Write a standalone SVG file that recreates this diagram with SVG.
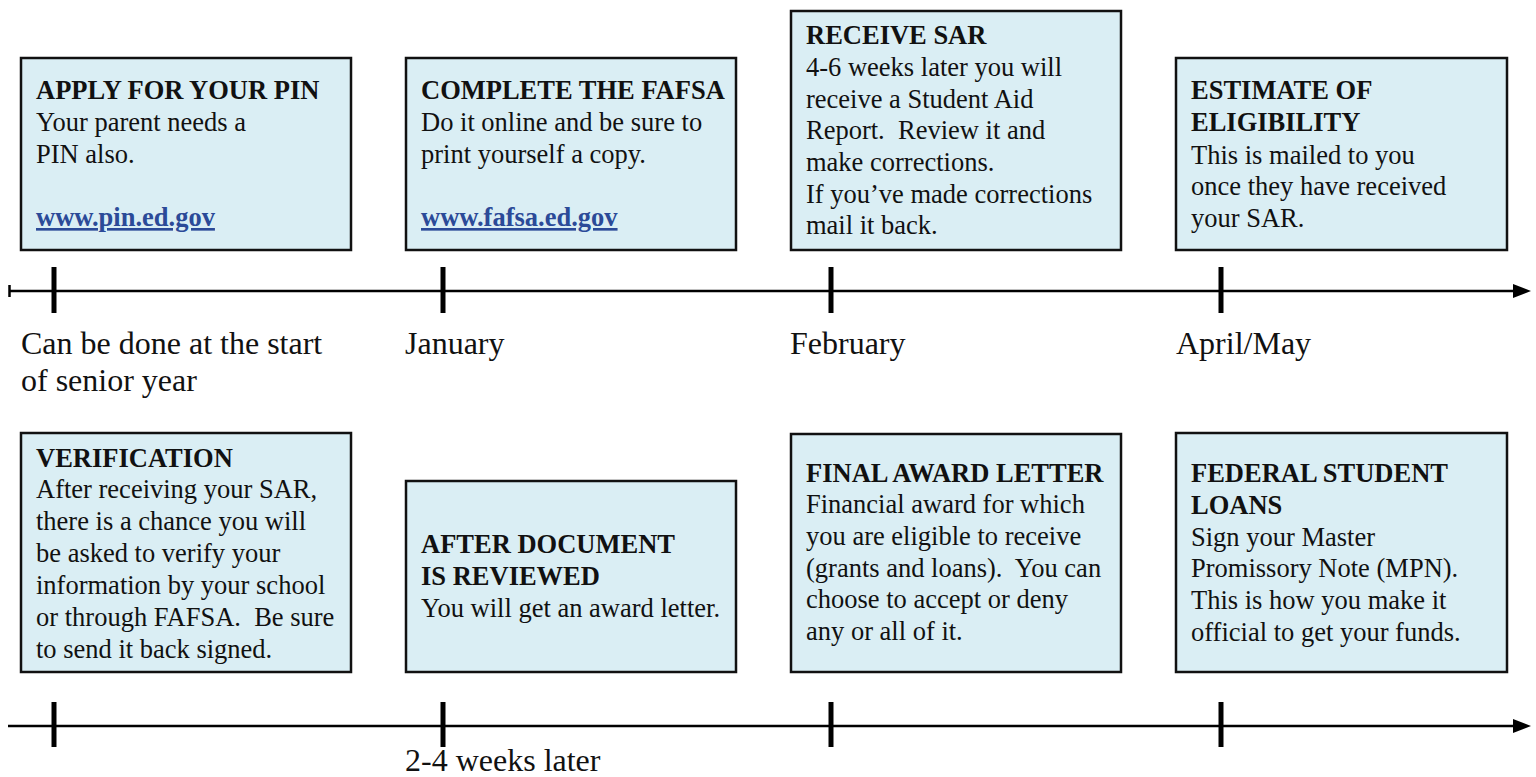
<svg xmlns="http://www.w3.org/2000/svg" width="1536" height="777" viewBox="0 0 1536 777">
<style>
.box{fill:#DAEEF4;stroke:#111;stroke-width:2.5}
.t{font-family:"Liberation Serif","Times New Roman",serif;font-size:26.5px;fill:#111;white-space:pre}
.b{font-weight:bold}
.u{font-weight:bold;fill:#2B4A98;text-decoration:underline}
.lab{font-family:"Liberation Serif","Times New Roman",serif;font-size:32px;fill:#111}
.ax{stroke:#000;stroke-width:2.5;fill:none}
.tick{stroke:#000;stroke-width:5}
</style>
<defs>
<marker id="ah" markerUnits="userSpaceOnUse" markerWidth="18" markerHeight="14" refX="0" refY="7" orient="auto">
<path d="M0,0 L18,7 L0,14 Z" fill="#000"/>
</marker>
</defs>
<g id="node-pin">
<rect class="box" x="21" y="58" width="330" height="192"/>
<text class="t" x="36" y="99"><tspan class="b">APPLY FOR YOUR PIN</tspan><tspan x="36" y="131">Your parent needs a</tspan><tspan x="36" y="163">PIN also.</tspan><tspan class="u" x="36" y="226">www.pin.ed.gov</tspan></text>
</g>
<g id="node-fafsa">
<rect class="box" x="406" y="58" width="330" height="192"/>
<text class="t" x="421" y="99"><tspan class="b">COMPLETE THE FAFSA</tspan><tspan x="421" y="131">Do it online and be sure to</tspan><tspan x="421" y="163">print yourself a copy.</tspan><tspan class="u" x="421" y="226">www.fafsa.ed.gov</tspan></text>
</g>
<g id="node-sar">
<rect class="box" x="791" y="11" width="330" height="239"/>
<text class="t" x="806" y="44"><tspan class="b">RECEIVE SAR</tspan><tspan x="806" y="76">4-6 weeks later you will</tspan><tspan x="806" y="108">receive a Student Aid</tspan><tspan x="806" y="139">Report.  Review it and</tspan><tspan x="806" y="171">make corrections.</tspan><tspan x="806" y="203">If you’ve made corrections</tspan><tspan x="806" y="234">mail it back.</tspan></text>
</g>
<g id="node-estimate">
<rect class="box" x="1176" y="58" width="331" height="192"/>
<text class="t" x="1191" y="99"><tspan class="b">ESTIMATE OF</tspan><tspan class="b" x="1191" y="131">ELIGIBILITY</tspan><tspan x="1191" y="164">This is mailed to you</tspan><tspan x="1191" y="195">once they have received</tspan><tspan x="1191" y="227">your SAR.</tspan></text>
</g>
<g id="node-verification">
<rect class="box" x="21" y="433" width="330" height="239"/>
<text class="t" x="36" y="467"><tspan class="b">VERIFICATION</tspan><tspan x="36" y="498">After receiving your SAR,</tspan><tspan x="36" y="530">there is a chance you will</tspan><tspan x="36" y="562">be asked to verify your</tspan><tspan x="36" y="594">information by your school</tspan><tspan x="36" y="626">or through FAFSA.  Be sure</tspan><tspan x="36" y="658">to send it back signed.</tspan></text>
</g>
<g id="node-after">
<rect class="box" x="406" y="481" width="330" height="191"/>
<text class="t" x="421" y="553"><tspan class="b">AFTER DOCUMENT</tspan><tspan class="b" x="421" y="585">IS REVIEWED</tspan><tspan x="421" y="617">You will get an award letter.</tspan></text>
</g>
<g id="node-final">
<rect class="box" x="791" y="434" width="330" height="238"/>
<text class="t" x="806" y="482"><tspan class="b">FINAL AWARD LETTER</tspan><tspan x="806" y="513">Financial award for which</tspan><tspan x="806" y="545">you are eligible to receive</tspan><tspan x="806" y="577">(grants and loans).  You can</tspan><tspan x="806" y="608">choose to accept or deny</tspan><tspan x="806" y="640">any or all of it.</tspan></text>
</g>
<g id="node-loans">
<rect class="box" x="1176" y="433" width="331" height="239"/>
<text class="t" x="1191" y="482"><tspan class="b">FEDERAL STUDENT</tspan><tspan class="b" x="1191" y="514">LOANS</tspan><tspan x="1191" y="546">Sign your Master</tspan><tspan x="1191" y="577">Promissory Note (MPN).</tspan><tspan x="1191" y="609">This is how you make it</tspan><tspan x="1191" y="641">official to get your funds.</tspan></text>
</g>
<g id="connectors">
<line class="ax" x1="9" y1="291" x2="1513" y2="291" marker-end="url(#ah)"/>
<line class="ax" x1="9.5" y1="285" x2="9.5" y2="297"/>
<line class="tick" x1="54" y1="267" x2="54" y2="313"/>
<line class="tick" x1="443" y1="267" x2="443" y2="313"/>
<line class="tick" x1="831" y1="267" x2="831" y2="313"/>
<line class="tick" x1="1221" y1="267" x2="1221" y2="313"/>
<line class="ax" x1="8" y1="726" x2="1513" y2="726" marker-end="url(#ah)"/>
<line class="tick" x1="54" y1="702" x2="54" y2="747"/>
<line class="tick" x1="443" y1="702" x2="443" y2="747"/>
<line class="tick" x1="831" y1="702" x2="831" y2="747"/>
<line class="tick" x1="1221" y1="702" x2="1221" y2="747"/>
</g>
<g id="labels">
<text class="lab" x="21" y="354">Can be done at the start</text>
<text class="lab" x="21" y="391">of senior year</text>
<text class="lab" x="405" y="354">January</text>
<text class="lab" x="790" y="354">February</text>
<text class="lab" x="1176" y="354">April/May</text>
<text class="lab" x="405" y="771">2-4 weeks later</text>
</g>
</svg>
